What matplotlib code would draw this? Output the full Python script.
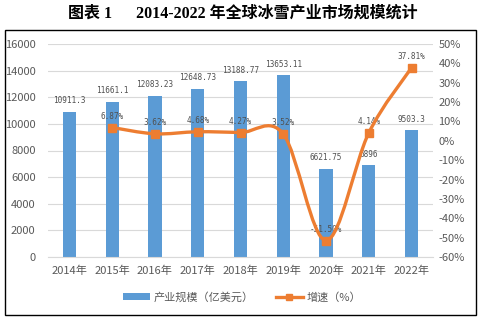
import matplotlib
matplotlib.use("Agg")
import matplotlib.pyplot as plt
from matplotlib.path import Path
from matplotlib.patches import PathPatch, Rectangle
from matplotlib.lines import Line2D
from matplotlib.patches import Patch

plt.rcParams["font.family"] = ["Noto Sans CJK SC", "DejaVu Sans"]

years = ["2014年", "2015年", "2016年", "2017年", "2018年",
         "2019年", "2020年", "2021年", "2022年"]
market_size = [10911.3, 11661.1, 12083.23, 12648.73, 13188.77,
               13653.11, 6621.75, 6896, 9503.3]
size_labels = ["10911.3", "11661.1", "12083.23", "12648.73", "13188.77",
               "13653.11", "6621.75", "6896", "9503.3"]
growth = [6.87, 3.62, 4.68, 4.27, 3.52, -51.50, 4.14, 37.81]
growth_labels = ["6.87%", "3.62%", "4.68%", "4.27%", "3.52%",
                 "-51.50%", "4.14%", "37.81%"]
left_ticks = [0, 2000, 4000, 6000, 8000, 10000, 12000, 14000, 16000]
right_ticks = [-60, -50, -40, -30, -20, -10, 0, 10, 20, 30, 40, 50]

BLUE = "#5B9BD5"
ORANGE = "#ED7D31"
GREY = "#595959"


def smooth_path(xs, ys):
    # Excel-style smoothed line: cubic bezier segments through the points
    verts = [(xs[0], ys[0])]
    codes = [Path.MOVETO]
    n = len(xs)
    for i in range(n - 1):
        x0, y0 = (xs[i - 1], ys[i - 1]) if i > 0 else (xs[i], ys[i])
        x1, y1 = xs[i], ys[i]
        x2, y2 = xs[i + 1], ys[i + 1]
        x3, y3 = (xs[i + 2], ys[i + 2]) if i + 2 < n else (x2, y2)
        c1 = (x1 + (x2 - x0) / 6, y1 + (y2 - y0) / 6)
        c2 = (x2 - (x3 - x1) / 6, y2 - (y3 - y1) / 6)
        verts += [c1, c2, (x2, y2)]
        codes += [Path.CURVE4] * 3
    return Path(verts, codes)


fig = plt.figure(figsize=(4.84, 3.23), dpi=100)
ax = fig.add_axes([48 / 484, 1 - 257 / 323, 385 / 484, 213 / 323])
ax2 = ax.twinx()

x = list(range(len(years)))
ax.bar(x, market_size, width=0.31, color=BLUE, zorder=2)
for xi, v, lab in zip(x, market_size, size_labels):
    ax.text(xi, v + 500, lab, ha="center", va="bottom", fontsize=5.6,
            family="DejaVu Sans Mono", color="#505050", zorder=3)

ax.set_xlim(-0.5, len(years) - 0.5)
ax.set_ylim(0, 16000)
ax.set_yticks(left_ticks)
ax.set_yticklabels([str(t) for t in left_ticks])
ax.set_xticks(x)
ax.set_xticklabels(years)
ax.grid(axis="y", color="#D9D9D9", linewidth=0.8, zorder=0)
ax.set_axisbelow(True)
for s in ["top", "left", "right"]:
    ax.spines[s].set_visible(False)
ax.spines["bottom"].set_color("#D9D9D9")
ax.tick_params(length=0, labelsize=8, colors=GREY, pad=6)
ax.tick_params(axis="y", pad=9)

gx = x[1:]
ax2.add_patch(PathPatch(smooth_path(gx, growth), facecolor="none",
                        edgecolor=ORANGE, linewidth=2.4, zorder=4,
                        capstyle="round", joinstyle="round"))
ax2.plot(gx, growth, linestyle="none", marker="s", markersize=5.5,
         color=ORANGE, zorder=5)
for xi, v, lab in zip(gx, growth, growth_labels):
    ax2.text(xi, v + 3.5, lab, ha="center", va="bottom", fontsize=5.6,
             family="DejaVu Sans Mono", color="#505050", zorder=2)
ax2.set_ylim(-60, 50)
ax2.set_yticks(right_ticks)
ax2.set_yticklabels([f"{t}%" for t in right_ticks])
for s in ["top", "left", "right", "bottom"]:
    ax2.spines[s].set_visible(False)
ax2.tick_params(length=0, labelsize=8, colors=GREY, pad=4)

handles = [Patch(facecolor=BLUE, label="产业规模（亿美元）"),
           Line2D([0], [0], color=ORANGE, linewidth=2.4, marker="s",
                  markersize=4, label="增速（%）")]
fig.legend(handles=handles, loc="center", bbox_to_anchor=(0.5, 1 - 297 / 323),
           ncol=2, frameon=False, fontsize=8, labelcolor=GREY,
           handlelength=2.4, handleheight=0.5, columnspacing=2.05,
           handletextpad=0.3)

fig.add_artist(Rectangle((5 / 484, 1 - 315 / 323), 471 / 484, 285 / 323,
                         transform=fig.transFigure, fill=False,
                         edgecolor="black", linewidth=1.0))

fig.text(0.502, 1 - 14 / 323, "图表 1      2014-2022 年全球冰雪产业市场规模统计",
         ha="center", va="center", fontsize=11.5, fontweight="bold",
         family=["Liberation Serif", "Noto Sans CJK SC"], color="black")

fig.savefig("out.png", dpi=100)
